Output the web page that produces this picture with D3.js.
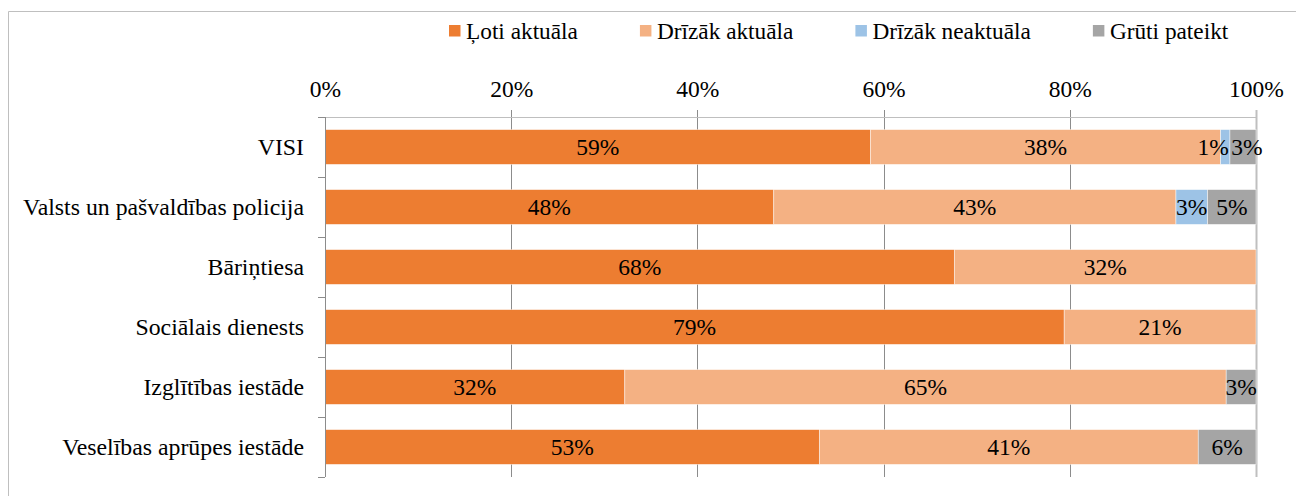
<!DOCTYPE html>
<html>
<head>
<meta charset="utf-8">
<script src="https://cdn.jsdelivr.net/npm/d3@7"></script>
<style>
  body { margin: 0; background: #fff; }
  svg { display: block; }
  svg text { font-family: "Liberation Serif", "Tinos", "Times New Roman", "Nimbus Roman", "DejaVu Serif", serif !important; }
</style>
</head>
<body>
<svg id="chart" width="1296" height="496"></svg>
<script>
// categories (top to bottom)
var categories = ["VISI", "Valsts un pašvaldības policija", "Bāriņtiesa",
    "Sociālais dienests", "Izglītības iestāde", "Veselības aprūpes iestāde"];

var seriesNames = ["Ļoti aktuāla", "Drīzāk aktuāla", "Drīzāk neaktuāla", "Grūti pateikt"];
var seriesColors = ["#ED7D31", "#F4B183", "#9DC3E6", "#A5A5A5"];

//  values in %
var lotiAktuala     = [58.6, 48.2, 67.6, 79.4, 32.2, 53.1];
var drizakAktuala   = [37.6, 43.2, 32.4, 20.6, 64.6, 40.7];
var drizakNeaktuala = [1.0, 3.4, 0, 0, 0, 0];
var grutiPateikt    = [2.8, 5.2, 0, 0, 3.2, 6.2];

var xTicks = [0, 20, 40, 60, 80, 100];

(function() {

    var seriesValues = [lotiAktuala, drizakAktuala, drizakNeaktuala, grutiPateikt];
    var fontSize = 23.5;

    //  build a table for d3.stack
    var table = categories.map(function(c, i) {
        var row = { category: c };
        seriesNames.forEach(function(s, k) { row[s] = seriesValues[k][i]; });
        return row;
    });

    var svg = d3.select('#chart');

    var margin = { left: 325, right: 40, top: 117, bottom: 19 };
    var width = 1296 - margin.left - margin.right;
    var height = 496 - margin.top - margin.bottom;

    var x = d3.scaleLinear().domain([0, 100]).range([margin.left, margin.left + width]);
    var y = d3.scaleBand().domain(categories)
        .range([margin.top, margin.top + height])
        .paddingInner(0.42).paddingOuter(0.21);

    //  outer frame of the chart area
    svg.append('path')
        .attr('d', 'M8.5,496 V11.5 H1296')
        .attr('fill', 'none')
        .attr('stroke', '#BFBFBF')
        .attr('stroke-width', 1);

    //  gridlines
    svg.append('g').selectAll('line.grid')
        .data(xTicks.filter(function(t) { return t > 0; }))
        .enter().append('line')
        .attr('class', 'grid')
        .attr('x1', function(d) { return Math.round(x(d)) + 0.5; })
        .attr('x2', function(d) { return Math.round(x(d)) + 0.5; })
        .attr('y1', margin.top - 7)
        .attr('y2', margin.top + height)
        .attr('stroke', function(d) { return d === 100 ? '#BFBFBF' : '#8C8C8C'; })
        .attr('stroke-width', function(d) { return d === 100 ? 2 : 1; });

    //  top axis line
    svg.append('line')
        .attr('x1', x(0)).attr('x2', x(100))
        .attr('y1', margin.top + 0.5).attr('y2', margin.top + 0.5)
        .attr('stroke', '#BFBFBF');

    var xAxis = d3.axisTop(x)
        .tickValues(xTicks)
        .tickFormat(function(d) { return d + '%'; })
        .tickSize(0)
        .tickPadding(0);

    svg.append('g')
        .attr('transform', 'translate(0,' + (margin.top - 20) + ')')
        .call(xAxis)
        .call(function(g) { g.select('.domain').remove(); })
        .selectAll('text')
        .attr('font-size', fontSize)
        .attr('fill', '#000');

    //  stacked bars
    var stack = d3.stack().keys(seriesNames);
    var layers = stack(table);

    var layerG = svg.selectAll('g.layer')
        .data(layers)
        .enter().append('g')
        .attr('class', 'layer')
        .attr('fill', function(d, i) { return seriesColors[i]; });

    layerG.selectAll('rect')
        .data(function(d) { return d; })
        .enter().append('rect')
        .filter(function(d) { return d[1] - d[0] > 0; })
        .attr('x', function(d) { return x(d[0]); })
        .attr('width', function(d) { return x(d[1]) - x(d[0]); })
        .attr('y', function(d) { return y(d.data.category); })
        .attr('height', y.bandwidth())
        .attr('stroke', '#FFFFFF')
        .attr('stroke-opacity', 0.6)
        .attr('stroke-width', 0.75);

    //  data labels
    //  small nudge for labels that do not fit in their segment
    var labelShift = { 'VISI|Drīzāk neaktuāla': -12, 'VISI|Grūti pateikt': 4 };

    layerG.each(function(layer) {
        d3.select(this).selectAll('text')
            .data(layer.filter(function(d) { return d[1] - d[0] > 0; }))
            .enter().append('text')
            .attr('x', function(d) {
                var shift = labelShift[d.data.category + '|' + layer.key] || 0;
                return (x(d[0]) + x(d[1])) / 2 + shift;
            })
            .attr('y', function(d) { return y(d.data.category) + y.bandwidth() / 2; })
            .attr('dy', '0.35em')
            .attr('text-anchor', 'middle')
            .attr('font-size', fontSize)
            .attr('fill', '#000')
            .text(function(d) { return Math.round(d[1] - d[0]) + '%'; });
    });

    //  category axis (left)
    var yAxis = d3.axisLeft(y).tickSize(0).tickPadding(21);
    var yG = svg.append('g')
        .attr('transform', 'translate(' + x(0) + ',0)')
        .call(yAxis);
    yG.select('.domain').remove();
    yG.selectAll('text')
        .attr('font-size', 23.8)
        .attr('fill', '#000');

    //  axis line with tick marks between categories
    svg.append('line')
        .attr('x1', x(0) + 0.5).attr('x2', x(0) + 0.5)
        .attr('y1', margin.top).attr('y2', margin.top + height)
        .attr('stroke', '#8C8C8C');
    svg.selectAll('line.ytick')
        .data(d3.range(categories.length + 1))
        .enter().append('line')
        .attr('class', 'ytick')
        .attr('x1', x(0) - 7).attr('x2', x(0))
        .attr('y1', function(i) { return Math.round(margin.top + i * y.step()) + 0.5; })
        .attr('y2', function(i) { return Math.round(margin.top + i * y.step()) + 0.5; })
        .attr('stroke', '#8C8C8C');

    //  legend
    var legend = svg.append('g').attr('transform', 'translate(449,0)');
    var lx = 0;
    seriesNames.forEach(function(name, i) {
        legend.append('rect')
            .attr('x', lx).attr('y', 25)
            .attr('width', 11.5).attr('height', 11.5)
            .attr('fill', seriesColors[i]);
        var t = legend.append('text')
            .attr('x', lx + 17).attr('y', 39)
            .attr('font-size', 23.3)
            .attr('fill', '#000')
            .text(name);
        lx += 17 + t.node().getComputedTextLength() + 62;
    });

})();
</script>
</body>
</html>
